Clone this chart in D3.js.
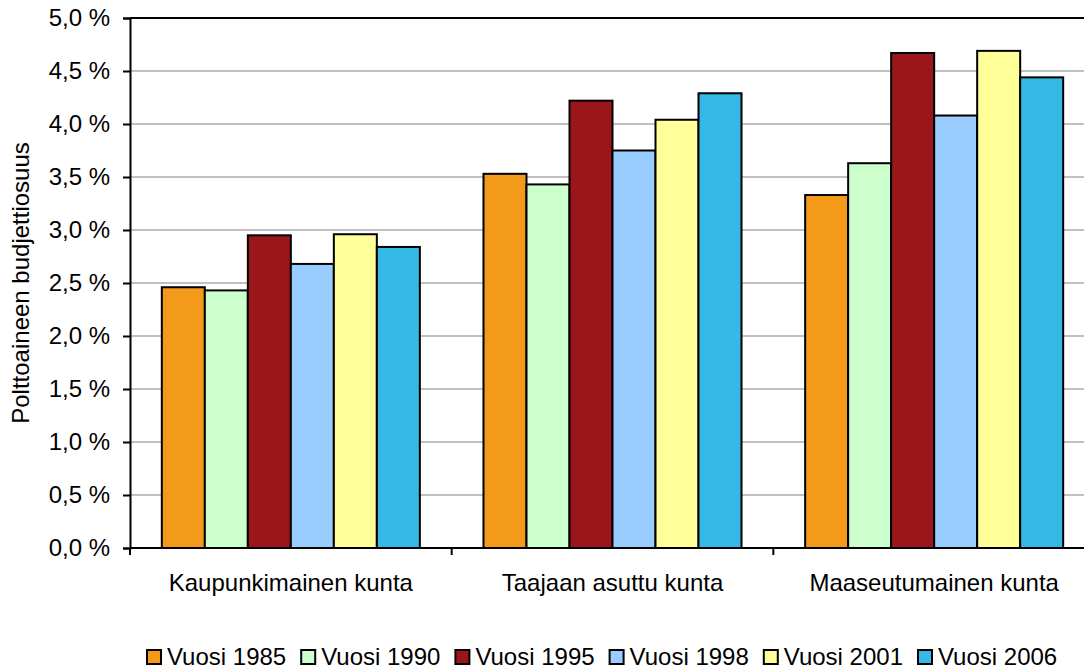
<!DOCTYPE html>
<html>
<head>
<meta charset="utf-8">
<script src="https://cdn.jsdelivr.net/npm/d3@7"></script>
<style>
  html, body { margin: 0; padding: 0; background: #fff; }
  svg { display: block; font-family: "Liberation Sans", Arial, sans-serif; }
</style>
</head>
<body>
<svg id="chart" width="1084" height="669"></svg>
<script>
// Kunnan tyyppi
const categories = ["Kaupunkimainen kunta", "Taajaan asuttu kunta", "Maaseutumainen kunta"];
// Vuodet
const years = ["Vuosi 1985", "Vuosi 1990", "Vuosi 1995", "Vuosi 1998", "Vuosi 2001", "Vuosi 2006"];
// Polttoaineen budjettiosuus (%) per vuosi, kuntatyypeittäin
const v1985 = [2.46, 3.53, 3.33];
const v1990 = [2.43, 3.43, 3.63];
const v1995 = [2.95, 4.22, 4.67];
const v1998 = [2.68, 3.75, 4.08];
const v2001 = [2.96, 4.04, 4.69];
const v2006 = [2.84, 4.29, 4.44];
const yTicks = [0, 0.5, 1, 1.5, 2, 2.5, 3, 3.5, 4, 4.5, 5];
const colors = ["#f39a1b", "#ccffcc", "#9b161a", "#99ccff", "#ffff99", "#35b8e5"];

const seriesValues = [v1985, v1990, v1995, v1998, v2001, v2006];
const fontSize = 24;

const svg = d3.select("#chart");
const plotLeft = 130, plotTop = 18, plotBottom = 548, plotRight = 1095;

const x0 = d3.scaleBand().domain(categories).range([plotLeft, plotRight]).padding(0);
const x1 = d3.scaleBand().domain(years).range([0, x0.bandwidth()]).paddingInner(0).paddingOuter(0.74);
const y = d3.scaleLinear().domain([0, 5]).range([plotBottom, plotTop]);

const fmt = v => d3.format(".1f")(v).replace(".", ",") + " %";

// vaakasuorat apuviivat
svg.append("g")
  .selectAll("line")
  .data(yTicks.filter(t => t > 0 && t < 5))
  .join("line")
  .attr("x1", plotLeft).attr("x2", plotRight)
  .attr("y1", d => y(d)).attr("y2", d => y(d))
  .attr("stroke", "#c0c0c0").attr("stroke-width", 2);

// kuvaajan reunus
svg.append("line")
  .attr("x1", plotLeft).attr("x2", plotRight)
  .attr("y1", y(5)).attr("y2", y(5))
  .attr("stroke", "#000").attr("stroke-width", 2);
svg.append("line")
  .attr("x1", plotRight).attr("x2", plotRight)
  .attr("y1", plotTop).attr("y2", plotBottom)
  .attr("stroke", "#000").attr("stroke-width", 2);

// pylväät
const groups = svg.append("g")
  .selectAll("g")
  .data(years)
  .join("g")
  .attr("fill", (d, i) => colors[i]);

groups.selectAll("rect")
  .data((yr, i) => categories.map((c, j) => ({ cat: c, yr: yr, v: seriesValues[i][j] })))
  .join("rect")
  .attr("x", d => x0(d.cat) + x1(d.yr))
  .attr("width", x1.bandwidth())
  .attr("y", d => y(d.v))
  .attr("height", d => y(0) - y(d.v))
  .attr("stroke", "#000")
  .attr("stroke-width", 2);

// y-akseli
const yAxis = svg.append("g")
  .attr("transform", `translate(${plotLeft},0)`)
  .call(d3.axisLeft(y).tickValues(yTicks).tickFormat(fmt).tickSize(7).tickPadding(13));
yAxis.select(".domain").attr("stroke", "#000").attr("stroke-width", 2);
yAxis.selectAll(".tick line").attr("stroke", "#000").attr("stroke-width", 2);
yAxis.selectAll(".tick text")
  .attr("font-size", fontSize).attr("fill", "#000")
  .attr("font-family", "Liberation Sans, Arial, sans-serif");

// x-akseli
const xAxis = svg.append("g")
  .attr("transform", `translate(0,${plotBottom})`)
  .call(d3.axisBottom(x0).tickSize(0).tickPadding(26));
xAxis.select(".domain").attr("stroke", "#000").attr("stroke-width", 2).attr("d", `M${plotLeft},0H${plotRight}`);
xAxis.selectAll(".tick text")
  .attr("font-size", fontSize).attr("fill", "#000")
  .attr("font-family", "Liberation Sans, Arial, sans-serif");

// kategorioiden väliset jakoviivat
svg.append("g")
  .selectAll("line")
  .data(categories.map(c => x0(c)).concat([plotRight]))
  .join("line")
  .attr("x1", d => d).attr("x2", d => d)
  .attr("y1", plotBottom).attr("y2", plotBottom + 7)
  .attr("stroke", "#000").attr("stroke-width", 2);

// y-akselin otsikko
svg.append("text")
  .attr("transform", `translate(29,${(plotTop + plotBottom) / 2}) rotate(-90)`)
  .attr("text-anchor", "middle")
  .attr("font-size", fontSize)
  .text("Polttoaineen budjettiosuus");

// selite
const legend = svg.append("g")
  .selectAll("g")
  .data(years)
  .join("g")
  .attr("transform", (d, i) => `translate(${147 + i * 154.2},650)`);
legend.append("rect")
  .attr("width", 14).attr("height", 14)
  .attr("fill", (d, i) => colors[i])
  .attr("stroke", "#000").attr("stroke-width", 2);
legend.append("text")
  .attr("x", 20).attr("y", 15)
  .attr("font-size", fontSize)
  .text(d => d);
</script>
</body>
</html>
